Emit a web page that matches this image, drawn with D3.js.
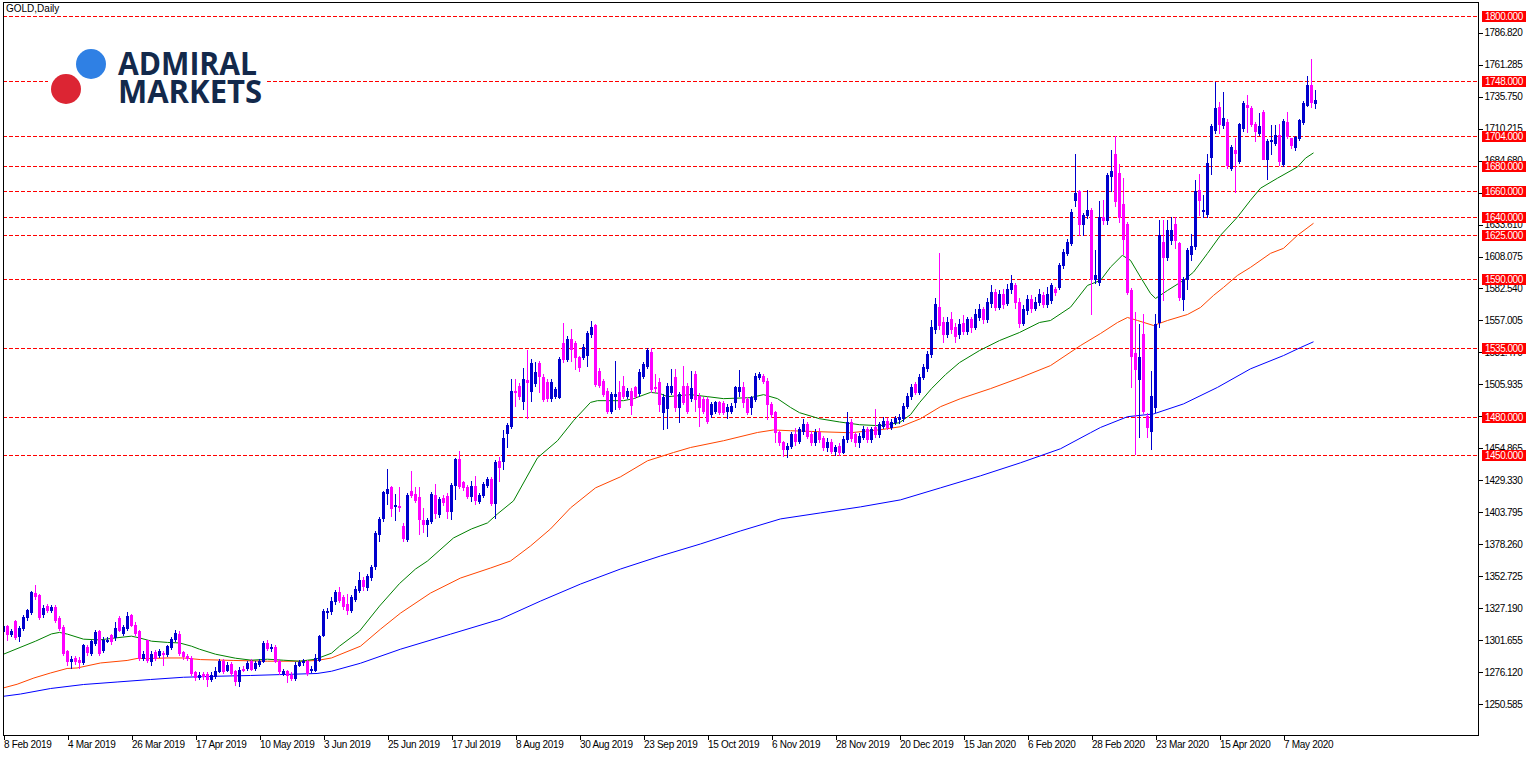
<!DOCTYPE html>
<html><head><meta charset="utf-8">
<script src="https://cdn.jsdelivr.net/npm/d3@7"></script>
<style>body{margin:0;background:#fff;}svg{display:block;}</style>
</head><body><svg id="c" width="1537" height="757"></svg>
<script>
// ---- DATA ----
// daily candles [open, high, low, close], GOLD, from 8 Feb 2019
const ohlc = [
[1309.5,1316,1307,1313.5],[1313,1314,1302.3,1306.9],[1306.9,1311,1305,1309.5],[1317,1317.8,1303,1304.2],[1305,1313,1301,1311.7],
[1311.7,1322,1310,1320.2],[1320.2,1327,1318,1325.5],[1324.2,1341,1323,1340.2],[1339.1,1345.8,1335,1337],[1337.8,1339,1319,1320.5],
[1322.3,1330,1320,1327.7],[1329,1331,1324,1325.8],[1325.8,1330,1324,1328.5],[1328.2,1330,1316,1317.8],[1319.7,1321,1310,1311.7],
[1312.2,1314,1290,1291.7],[1293,1294,1282.3,1285],[1285.5,1289,1279.7,1286.9],[1287.7,1289,1283,1285],[1286.3,1288,1279.7,1284.5],
[1284.5,1299,1283,1297.8],[1296.2,1298,1290,1292.2],[1291.7,1302,1290,1301],[1299.7,1310,1298,1308.5],[1309,1310,1290,1291.7],
[1294.3,1304,1292,1302.3],[1301.5,1304,1300,1302.3],[1305.8,1307,1299,1301.5],[1304.2,1316.2,1302,1311.7],[1319.7,1321,1309,1310.3],
[1307.7,1314,1306,1312.2],[1311.7,1324.5,1310,1321],[1321.8,1323,1313,1314.3],[1314.3,1316,1306,1307.7],[1309,1310,1286,1287.7],
[1287.7,1293,1286,1291.1],[1301.8,1302.3,1284,1285.8],[1285,1293,1282.3,1291.1],[1292.5,1294,1286,1287.7],[1289.8,1295,1288,1293.5],
[1291.7,1293,1282.3,1290.6],[1290.9,1298,1289,1297],[1296.2,1304,1295,1303.1],[1302.9,1310,1301,1307.4],[1307.1,1309,1290,1291.7],
[1292.2,1293,1287,1289],[1289.5,1291,1286,1287.7],[1287.7,1289,1274,1275.7],[1276.2,1277,1270,1272.2],[1272.2,1276,1270.5,1274.3],
[1274.9,1276,1271,1273],[1274.9,1276,1265,1271.1],[1271.1,1276,1269,1274.3],[1273,1280,1272,1277],[1277,1287,1276,1285],
[1285,1287,1275.5,1277],[1278.3,1284,1277,1282.3],[1282.9,1284,1274,1275.7],[1277,1278,1265.8,1269.5],[1269.5,1280,1265,1278.3],
[1279.1,1281,1277,1278.3],[1279.7,1285,1278,1283.7],[1285,1287,1278,1279.1],[1279.7,1285,1278,1283.7],[1282.9,1287,1281,1285],
[1285,1301,1284,1299.7],[1299.7,1302.3,1294,1295.7],[1295.9,1299,1293,1296.3],[1296.2,1298,1284,1285],[1285.5,1287,1275,1277],
[1275.7,1279,1274,1277],[1277,1278,1268.5,1274.3],[1274.3,1276,1270,1271.7],[1271.7,1284,1270,1282.3],[1282.3,1286,1281,1284.2],
[1284.2,1287,1282,1285],[1285,1286,1274,1275.7],[1278.3,1281,1276.5,1279.1],[1278.3,1291,1277,1287.7],[1286.3,1306,1285,1305],
[1306.3,1327,1305,1325],[1324.5,1327.7,1319.7,1325],[1325,1336,1323,1333],[1333,1342,1331,1340],[1340,1344,1332,1334],
[1336,1338,1327,1329],[1331,1339,1323,1326],[1326,1338,1324,1336],[1335,1345,1333,1343],[1342,1356,1340,1350],
[1350,1352,1342,1345],[1344,1355,1342,1353],[1352,1362,1350,1360],[1361,1389,1359,1387.7],[1386.9,1400,1381,1398.3],
[1399,1421,1397,1419.7],[1418.9,1438.3,1410.3,1422.3],[1423.7,1425,1401,1407.7],[1408.7,1418.3,1397.5,1409.8],[1409,1424.2,1405,1408.2],
[1393,1395,1381,1383.1],[1382.9,1419,1381,1417.8],[1421,1437,1416,1417.8],[1418.3,1424.2,1412,1414],[1415.7,1424.2,1386.3,1398.3],
[1397.8,1407.7,1388.5,1394.3],[1394.3,1399.7,1385,1397.5],[1397,1420,1395,1418.3],[1417.8,1426.3,1399,1403.1],[1402.3,1416,1400,1414.3],
[1415.1,1418,1410,1412.5],[1417,1419,1399.7,1405],[1405,1427,1398.3,1425.8],[1425.8,1447,1414.3,1446.3],[1446.3,1453,1423,1425],
[1427.7,1429,1422,1423.7],[1424.2,1426,1415,1416.5],[1417,1429,1413,1425],[1425,1433,1410.3,1413.8],[1413,1419,1411,1417.5],
[1417.8,1428,1416,1426.3],[1425.8,1432,1424,1430.3],[1430.3,1432,1410,1411.7],[1411.7,1446,1399.7,1444.2],[1445,1447.7,1429,1440.2],
[1445,1469.5,1438.3,1463],[1466.9,1474.9,1455.7,1473.8],[1473,1510.3,1471,1501],[1501,1510.3,1489,1499.7],[1505,1507,1494.3,1497],
[1493,1519.1,1486.3,1510.3],[1509.5,1533.5,1479.1,1507.7],[1501,1526.3,1493,1522.9],[1506.9,1523.7,1505,1516.2],[1522.9,1525,1499.7,1513],
[1512.2,1514,1493,1494.3],[1507.7,1510,1493,1495.1],[1495.1,1510,1493,1507.7],[1497,1504,1495,1502.3],[1496.2,1528,1495,1526.3],
[1539.1,1555.1,1524,1526.3],[1526.3,1545,1525,1542.3],[1542.3,1550.3,1525,1534.3],[1538.9,1541,1518.3,1527.7],[1527.7,1529,1517,1519.7],
[1527.7,1538,1526,1536.2],[1529.5,1549,1521,1546.9],[1546.3,1556.5,1544,1552.2],[1553,1554,1505,1506.3],[1517,1519,1504,1505.8],
[1508.5,1510,1497,1498.3],[1501,1503,1483,1485],[1484.5,1500,1483,1498.3],[1497,1524.5,1486.3,1498.3],[1499.7,1509,1486,1487.7],
[1505,1513,1495,1497],[1497,1503,1495,1501],[1501,1503,1482.3,1489.8],[1503.7,1505,1495,1497],[1498.9,1518,1497,1516.2],
[1513,1524,1511,1522.3],[1521,1535.1,1519,1533.5],[1531.7,1535.1,1500,1502.3],[1504.2,1514.3,1500,1503.1],[1508,1511,1485,1490],
[1484,1498,1470,1496],[1487,1507,1471,1505],[1500,1518,1498,1505],[1512,1518,1485,1488],[1488,1500,1476,1498],
[1505,1521,1490,1492],[1505,1507,1483,1485],[1495,1517,1493,1503],[1514.3,1517,1485,1494.3],[1497,1499,1473,1487.7],
[1494.3,1496,1483,1485],[1494.3,1496,1475,1477],[1482.3,1492,1480,1490.3],[1485,1493,1483,1491.7],[1491.7,1493,1482,1483.7],
[1491,1493,1482,1484],[1485,1490,1479,1487.7],[1485,1491,1483,1489],[1491.7,1505,1487.7,1503.7],[1501,1517.5,1497,1503.7],
[1503.7,1507.7,1487.7,1491.7],[1494.3,1496,1482,1483.7],[1487.7,1497,1482.3,1495.7],[1494.3,1515,1493,1513],[1511.7,1515.7,1510,1514.3],
[1513,1514.3,1507,1509],[1509,1511,1478.3,1490.3],[1490.3,1492,1480,1482.3],[1483.7,1485,1459.7,1467.7],[1467.7,1469,1458,1459.7],
[1459.7,1461,1449,1454.3],[1454.3,1459,1447.7,1457],[1457,1468,1455,1466],[1466,1471,1458,1461],[1461,1472,1459,1470],
[1469,1478,1466,1474],[1474,1476,1463,1465],[1466,1469,1458,1460],[1460,1470,1458,1468],[1468,1471,1460,1462],
[1463,1465,1454,1456],[1456,1463,1453,1460],[1460,1462,1451,1453],[1453,1458,1450,1456],[1457,1459,1450,1452],
[1452,1465,1451,1462],[1462,1484,1460,1476],[1476,1478,1461,1463],[1466,1468,1457,1460],[1460,1467,1456,1465],
[1464,1473,1462,1470],[1470,1472,1460,1462],[1462,1472,1460,1470],[1472,1486,1464,1466],[1466,1476,1464,1474],
[1473,1480,1471,1477],[1477,1479,1470,1472],[1472,1478,1470,1476],[1476,1481,1474,1479],[1478,1482,1475,1480],
[1479,1491,1477,1489],[1489,1499,1487,1497],[1497,1506,1494,1504],[1506,1508,1498,1500],[1500,1514,1498,1512],
[1512,1522,1510,1520],[1519,1533,1517,1530],[1530,1557,1528,1552],[1550,1575,1547,1570],[1568,1611,1550,1553],
[1556,1560,1540,1546],[1546,1560,1544,1556],[1558,1564,1547,1550],[1552,1555,1540,1545],[1546,1558,1543,1554],
[1555,1561,1546,1549],[1549,1560,1546,1558],[1558,1560,1548,1552],[1552,1566,1550,1562],[1560,1570,1557,1566],
[1566,1568,1555,1558],[1558,1575,1556,1572],[1571,1585,1568,1580],[1580,1582,1565,1568],[1568,1581,1566,1578],
[1578,1582,1567,1570],[1571,1586,1569,1582],[1582,1593,1579,1587],[1585,1587,1567,1572],[1572,1575,1552,1555],
[1555,1569,1553,1566],[1565,1577,1562,1574],[1574,1577,1564,1567],[1567,1576,1565,1572],[1572,1582,1569,1578],
[1577,1580,1568,1570],[1570,1584,1568,1578],[1573,1587,1571,1585],[1582,1584,1577,1580],[1584,1603,1582,1601],
[1601,1614,1599,1612],[1611,1622,1609,1620],[1619,1646,1617,1644],[1653,1690,1648,1659],[1660,1661,1625,1634],
[1634,1643,1625,1641],[1641,1661,1639,1645],[1645,1647,1562,1590],[1590,1613,1587,1593],[1588,1652,1585,1640],
[1640,1653,1634,1637],[1637,1675,1634,1673],[1672,1693,1660,1676],[1690,1704,1648,1652],[1675,1682,1636,1640],
[1650,1671,1610,1622],[1634,1636,1578,1580],[1581,1583,1503.7,1529],[1531,1563.7,1450.3,1518],[1510.3,1554.3,1464.2,1528.2],
[1546.3,1562,1483,1485],[1481,1483,1464.2,1471.7],[1468.5,1517,1454.3,1497],[1487.7,1562.3,1483.7,1554.3],[1556,1637,1552,1625],
[1619.7,1637,1573,1607.7],[1607.7,1637,1605,1629],[1621,1640,1618,1629],[1634.3,1640,1615,1621],[1618.9,1620,1573,1575.7],
[1574.3,1592,1565,1590.3],[1590.3,1615,1582.3,1613],[1609.8,1626.3,1605,1616.2],[1616.2,1669,1614,1660.2],[1661,1674,1641,1653],
[1644.5,1657,1639.7,1645.3],[1642.3,1690.3,1640,1682.9],[1687.7,1714,1674.3,1712.2],[1709,1747.7,1707,1726.3],[1727.7,1731.7,1706.9,1713.8],
[1713,1739.1,1711,1718.3],[1715.7,1718,1679,1681],[1679.1,1697,1677,1695.2],[1693,1702.3,1659.7,1691],[1684.5,1715,1683,1713.8],
[1710.3,1732,1708,1730.9],[1729,1737,1707.7,1727.7],[1726.3,1728,1712,1713.8],[1713.8,1715.7,1700,1708.5],[1706.9,1722.3,1705,1712.2],
[1723.7,1725,1686.3,1686.3],[1686.3,1702,1670.3,1700.5],[1700.6,1713,1690,1701],[1698.9,1713,1697,1705],[1705,1713.8,1681,1684.5],
[1682.3,1718,1680,1716.2],[1715.7,1723.7,1702.3,1704.2],[1702.3,1703,1695,1697],[1695.7,1704,1693,1703.1],[1702.3,1718,1701,1717],
[1715.7,1732,1714,1730.9],[1729,1752.2,1728,1745],[1745,1765.5,1727.7,1731.7],[1730.3,1741,1726.3,1733]
];
const dateLabels = ["8 Feb 2019","4 Mar 2019","26 Mar 2019","17 Apr 2019","10 May 2019","3 Jun 2019","25 Jun 2019",
  "17 Jul 2019","8 Aug 2019","30 Aug 2019","23 Sep 2019","15 Oct 2019","6 Nov 2019","28 Nov 2019","20 Dec 2019",
  "15 Jan 2020","6 Feb 2020","28 Feb 2020","23 Mar 2020","15 Apr 2020","7 May 2020"];
const dateTickBars = [0,16,32,48,64,80,96,112,128,144,160,176,192,208,224,240,256,272,288,304,320];
const priceTicks = [1250.585,1276.120,1301.655,1327.190,1352.725,1378.260,1403.795,1429.330,1454.865,1480.400,
  1505.935,1531.470,1557.005,1582.540,1608.075,1633.610,1659.145,1684.680,1710.215,1735.750,1761.285,1786.820];
const levels = [1800,1748,1704,1680,1660,1640,1625,1590,1535,1480,1450];
const title = "GOLD,Daily";
// moving averages read as [bar, value]
const maGreen = [[0,1290.6],[8,1301],[12,1306.8],[14,1308],[16,1306.6],[20,1302.6],[24,1302],[28,1303.6],[32,1305],[34,1303.6],
 [37,1301],[41,1300],[44,1299.6],[47,1297],[49,1294.6],[53,1290.6],[58,1287.4],[62,1285.8],[66,1286.6],[70,1285.8],[74,1285],
 [78,1286.6],[82,1291.4],[84,1297],[89,1309],[94,1329],[99,1347],[103,1358.6],[106,1365],[112.5,1383.4],[117,1390.6],
 [121,1395.4],[123.5,1402.6],[127.5,1413],[133.5,1447.4],[138.5,1461],[142.5,1477],[146.75,1491.6],[148.5,1493],[155,1493],
 [157.5,1494.6],[161.75,1499.6],[164,1498.8],[166,1496.2],[171.75,1497.8],[176,1496.2],[180,1494.6],[186.75,1495.4],[190,1497.8],
 [193.5,1494.6],[196.75,1487.6],[199,1483.4],[204,1478.6],[209,1476],[214,1473.8],[219,1473],[224,1475.4],[226.75,1481.8],
 [229,1491.4],[232,1502.6],[235.5,1513.8],[239,1523.4],[244,1533],[249,1541],[254,1547.4],[259,1555.4],[261.75,1557],
 [266.75,1567.6],[271,1585],[274.25,1589],[276.75,1599.6],[279.7,1609],[281.75,1605],[284.25,1591.6],[286.75,1578.6],[288,1574.6],
 [291,1581],[295,1589],[297.5,1595.6],[301,1610.6],[304.25,1625],[308.5,1639.6],[311.75,1653],[314.25,1662.6],[318.5,1670.6],
 [323.5,1679.6],[325.5,1686.6],[327.5,1690.8]];
const maOrange = [[0,1263.7],[3.4,1266.6],[7.6,1271.6],[11.75,1275.6],[15.9,1279.2],[18.4,1279.6],[24.25,1283.6],[30.9,1285.6],
 [33.4,1287.2],[36.75,1287.2],[40.9,1287.6],[45,1287.6],[49.25,1286.3],[57.6,1285.6],[66,1285],[74.25,1285],[78.4,1285.6],
 [82,1287.6],[89.25,1297],[94.25,1310.6],[99.25,1323.4],[106.75,1339.4],[114.25,1351.4],[121.75,1359.4],[126.75,1365],
 [131.75,1377],[136.75,1390.6],[141.75,1407.4],[148,1423.4],[154.25,1432.2],[161,1445],[167.5,1451.6],[171.75,1455.6],[180,1461],
 [188.5,1467.6],[192.5,1469.6],[196.75,1469],[204,1468.2],[211.75,1467.4],[219.25,1469.8],[224.25,1472.2],[229.25,1478.6],
 [234.25,1488.2],[239.25,1494.6],[246.75,1502.6],[254.25,1511.4],[261.75,1521],[269.25,1537],[274.25,1546.6],[278.5,1555.4],
 [281,1559.4],[283.5,1557],[287.5,1553],[291,1557],[296,1561.8],[299.25,1567.4],[302.5,1577],[305,1583.4],[308.5,1593],
 [311.75,1599.4],[316.75,1610.6],[320,1614.6],[323.5,1625],[327.5,1634.6]];
const maBlue = [[0,1257],[4.25,1258.8],[11.75,1263.2],[20,1266.4],[28.4,1268.4],[36.75,1270.4],[45,1272.2],[53.4,1273],
 [61.75,1273.6],[70,1274.4],[78.4,1275.2],[82,1277],[89.25,1283.4],[99.25,1294.6],[111.75,1306.6],[124.25,1318.6],[134.25,1333],
 [144.25,1346.6],[154.25,1358.6],[164.25,1369],[174.25,1378.6],[184.25,1389],[194.25,1398.6],[204.25,1403.4],[214.25,1408.2],
 [224.25,1413.8],[234.25,1423.4],[244.25,1433],[254.25,1443.4],[264.25,1454.6],[271.75,1467.4],[274.25,1471.6],[281,1480.2],
 [287.5,1482.4],[295,1490.4],[303.5,1503.6],[311.75,1518.4],[320,1529],[324.25,1535.4],[327.5,1540]];

// ---- DRAW ----
const svg = d3.select("#c");
const PL = 3, PR = 1479, PT = 3, PB = 736;
const x = d3.scaleLinear().domain([0, 320]).range([3.5, 1283.5]);
const y = d3.scaleLinear().domain([1225.3, 1810.45]).range([PB, PT]);
const FONT = "'Liberation Sans', Arial, sans-serif";

svg.append("rect").attr("width",1537).attr("height",757).attr("fill","#fff");
svg.append("defs").append("clipPath").attr("id","clip").append("rect")
  .attr("x",PL).attr("y",PT).attr("width",PR-PL).attr("height",PB-PT);

const plot = svg.append("g").attr("clip-path","url(#clip)");

// level lines
plot.selectAll("line.lvl").data(levels).enter().append("line")
  .attr("x1",PL).attr("x2",PR)
  .attr("y1",d=>Math.round(y(d))+0.5).attr("y2",d=>Math.round(y(d))+0.5)
  .attr("stroke","#ff0000").attr("stroke-width",1).attr("stroke-dasharray","4,2")
  .attr("shape-rendering","crispEdges");

// logo
const logo = svg.append("g");
logo.append("rect").attr("x",48).attr("y",46).attr("width",217).attr("height",62).attr("fill","#fff");
logo.append("circle").attr("cx",91).attr("cy",64).attr("r",15).attr("fill","#2f80e4");
logo.append("circle").attr("cx",66).attr("cy",89).attr("r",15).attr("fill","#dc2533");
logo.append("text").attr("x",118).attr("y",75).text("ADMIRAL")
  .attr("font-family","'Open Sans', sans-serif").attr("font-weight",700).attr("font-size",32)
  .attr("textLength",139).attr("lengthAdjust","spacingAndGlyphs").attr("fill","#13294b");
logo.append("text").attr("x",118).attr("y",103).text("MARKETS")
  .attr("font-family","'Open Sans', sans-serif").attr("font-weight",700).attr("font-size",32)
  .attr("textLength",144).attr("lengthAdjust","spacingAndGlyphs").attr("fill","#13294b");

// moving averages
const line = d3.line().x(d=>x(d[0])).y(d=>y(d[1]));
[[maBlue,"#0000ff"],[maOrange,"#ff4500"],[maGreen,"#008000"]].forEach(([data,col])=>{
  plot.append("path").datum(data).attr("d",line).attr("fill","none").attr("stroke",col).attr("stroke-width",1);
});

// candles
const BULL = "#0000cd", BEAR = "#ff00ff";
const cg = plot.append("g").attr("shape-rendering","crispEdges");
ohlc.forEach((d,i)=>{
  const [o,h,l,c] = d;
  const col = c >= o ? BULL : BEAR;
  const cx = x(i);
  const yh = Math.round(y(h)), yl = Math.round(y(l));
  cg.append("rect").attr("x",cx-0.5).attr("width",1).attr("y",yh).attr("height",Math.max(1,yl-yh+1)).attr("fill",col);
  const top = Math.round(y(Math.max(o,c))), bot = Math.round(y(Math.min(o,c)));
  cg.append("rect").attr("x",cx-1.5).attr("width",3).attr("y",top).attr("height",Math.max(1,bot-top+1)).attr("fill",col);
});

// frame
svg.append("rect").attr("x",PL+0.5).attr("y",PT-0.5).attr("width",PR-PL-1).attr("height",PB-PT)
  .attr("fill","none").attr("stroke","#000").attr("shape-rendering","crispEdges");

// title
svg.append("text").attr("x",6).attr("y",12).text(title)
  .attr("font-family",FONT).attr("font-size",10).attr("fill","#000");

// right axis
const ya = svg.append("g").attr("transform",`translate(${PR-0.5},0)`)
  .call(d3.axisRight(y).tickValues(priceTicks).tickFormat(d3.format(".3f")).tickSize(4).tickPadding(2));
ya.select(".domain").remove();
ya.selectAll("text").attr("font-family",FONT).attr("font-size",10).attr("letter-spacing","-0.5px").attr("fill","#000");
ya.selectAll("line").attr("shape-rendering","crispEdges");

// bottom axis
const xa = svg.append("g").attr("transform",`translate(0,${PB-0.5})`)
  .call(d3.axisBottom(x).tickValues(dateTickBars).tickFormat((d,i)=>dateLabels[i]).tickSize(4).tickPadding(1));
xa.select(".domain").remove();
xa.selectAll("text").attr("text-anchor","start").attr("x",0).attr("font-family",FONT).attr("font-size",10)
  .attr("letter-spacing","-0.3px").attr("fill","#000");
xa.selectAll("line").attr("shape-rendering","crispEdges");

// level labels
const lg = svg.append("g");
levels.forEach(v=>{
  const yy = Math.round(y(v));
  lg.append("rect").attr("x",1482).attr("y",yy-5).attr("width",44).attr("height",11).attr("fill","#ff0000");
  lg.append("text").attr("x",1485).attr("y",yy+4).text(d3.format(".3f")(v))
    .attr("font-family",FONT).attr("font-size",10).attr("letter-spacing","-0.5px").attr("fill","#fff");
});
</script></body></html>
